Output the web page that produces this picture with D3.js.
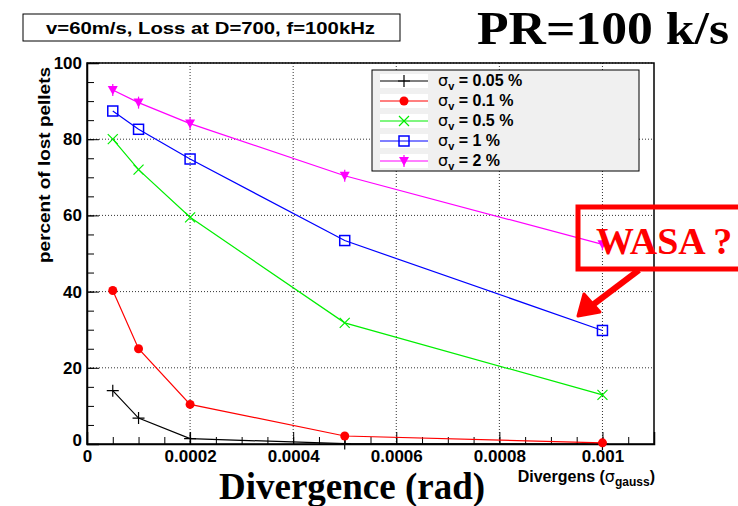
<!DOCTYPE html>
<html>
<head>
<meta charset="utf-8">
<script src="https://cdn.jsdelivr.net/npm/d3@7"></script>
<style>
  body { margin: 0; background: #fff; }
  svg { display: block; }
</style>
</head>
<body>
<svg class="displayContext" width="738" height="506"></svg>
<script>
// divergence values (rad) where the points were taken
var divergence = [0.00005, 0.0001, 0.0002, 0.0005, 0.001];

// percent of lost pellets, one array per velocity spread
var sigma005 = [14, 6.8, 1.4, 0.1, 0];
var sigma01  = [40.3, 25, 10.4, 2.1, 0.3];
var sigma05  = [80, 72, 59.5, 31.8, 12.9];
var sigma1   = [87.4, 82.6, 74.8, 53.4, 29.8];
var sigma2   = [92.9, 89.6, 84.1, 70.4, 52.4];

var seriesLabels = ["0.05 %", "0.1 %", "0.5 %", "1 %", "2 %"];
var xTicks = [0, 0.0002, 0.0004, 0.0006, 0.0008, 0.001];
var yTicks = [0, 20, 40, 60, 80, 100];

function drawChart(){

  var svg = d3.select(".displayContext");

  var left = 87, right = 654, top = 63, bottom = 444;

  var scaleX = d3.scaleLinear().domain([0, 0.0011]).range([left, right]);
  var scaleY = d3.scaleLinear().domain([0, 100]).range([bottom, top]);

  // dotted grid
  var grid = svg.append("g");
  grid.selectAll(".gx").data(xTicks.slice(1)).enter().append("line")
    .attr("x1", d => scaleX(d)).attr("x2", d => scaleX(d))
    .attr("y1", top).attr("y2", bottom)
    .attr("stroke", "#333").attr("stroke-width", 1)
    .attr("stroke-dasharray", "1,2");
  grid.selectAll(".gy").data(yTicks.slice(1)).enter().append("line")
    .attr("x1", left).attr("x2", right)
    .attr("y1", d => scaleY(d)).attr("y2", d => scaleY(d))
    .attr("stroke", "#333").attr("stroke-width", 1)
    .attr("stroke-dasharray", "1,2");

  // frame
  svg.append("rect")
    .attr("x", left).attr("y", top)
    .attr("width", right - left).attr("height", bottom - top)
    .attr("fill", "none").attr("stroke", "#000").attr("stroke-width", 1.5);

  var fmtX = function(d){ return d === 0 ? "0" : String(+d.toFixed(4)); };

  // x axis, ticks pointing up into the frame
  var xMinor = d3.range(0, 0.00111, 0.00005);
  svg.append("g")
    .attr("transform", "translate(0," + bottom + ")")
    .call(d3.axisBottom(scaleX).tickValues(xMinor).tickSize(-7).tickFormat(""))
    .call(g => g.select(".domain").remove());
  var xAxis = svg.append("g")
    .attr("transform", "translate(0," + bottom + ")")
    .call(d3.axisBottom(scaleX).tickValues(xTicks).tickSize(-12).tickPadding(6).tickFormat(fmtX));
  xAxis.select(".domain").attr("stroke-width", 1.5);
  xAxis.selectAll("text")
    .attr("font-family", "Liberation Sans, Arial, sans-serif")
    .attr("font-weight", "bold").attr("font-size", 17).attr("fill", "#000");

  // y axis, ticks pointing right into the frame
  var yMinor = d3.range(0, 101, 5);
  svg.append("g")
    .attr("transform", "translate(" + left + ",0)")
    .call(d3.axisLeft(scaleY).tickValues(yMinor).tickSize(-7).tickFormat(""))
    .call(g => g.select(".domain").remove());
  var yAxis = svg.append("g")
    .attr("transform", "translate(" + left + ",0)")
    .call(d3.axisLeft(scaleY).tickValues(yTicks).tickSize(-12).tickPadding(5));
  yAxis.select(".domain").attr("stroke-width", 1.5);
  yAxis.selectAll("text")
    .attr("font-family", "Liberation Sans, Arial, sans-serif")
    .attr("font-weight", "bold").attr("font-size", 17).attr("fill", "#000");
  yAxis.selectAll(".tick").filter(d => d === 0).select("text").attr("dy", "0.1em");

  // series
  var series = [
    { name: seriesLabels[0], values: sigma005, colour: "#000000", marker: "plus" },
    { name: seriesLabels[1], values: sigma01,  colour: "#ff0000", marker: "dot" },
    { name: seriesLabels[2], values: sigma05,  colour: "#00ee00", marker: "cross" },
    { name: seriesLabels[3], values: sigma1,   colour: "#0000ff", marker: "square" },
    { name: seriesLabels[4], values: sigma2,   colour: "#ff00ff", marker: "tri" }
  ];

  var lineFunction = d3.line()
    .x(function(d, i) { return scaleX(divergence[i]); })
    .y(function(d) { return scaleY(d); });

  series.forEach(function(s){
    svg.append("path")
      .attr("d", lineFunction(s.values))
      .attr("stroke", s.colour)
      .attr("stroke-width", 1.2)
      .attr("fill", "none");
    s.values.forEach(function(v, i){
      drawMarker(svg, s.marker, scaleX(divergence[i]), scaleY(v), s.colour);
    });
  });

  // legend
  var lg = svg.append("g");
  lg.append("rect")
    .attr("x", 372).attr("y", 70).attr("width", 267).attr("height", 101)
    .attr("fill", "#f0f0f0").attr("stroke", "#000").attr("stroke-width", 1);
  series.forEach(function(s, i){
    var yy = 81 + i * 20;
    lg.append("rect").attr("x", 380).attr("y", yy - 7).attr("width", 48).attr("height", 14).attr("fill", "#fff");
    lg.append("line").attr("x1", 380).attr("x2", 428).attr("y1", yy).attr("y2", yy)
      .attr("stroke", s.colour).attr("stroke-width", 1.2);
    drawMarker(lg, s.marker, 404, yy, s.colour);
    var t = lg.append("text")
      .attr("x", 438).attr("y", yy + 5)
      .attr("font-family", "Liberation Sans, Arial, sans-serif")
      .attr("font-weight", "bold").attr("font-size", 16);
    t.append("tspan").attr("font-weight", "normal").attr("font-family", "DejaVu Sans, sans-serif").text("\u03c3");
    t.append("tspan").attr("font-size", 11).attr("dy", 4).text("v");
    t.append("tspan").attr("dy", -4).text(" = " + s.name);
  });

  // title box
  svg.append("rect")
    .attr("x", 23).attr("y", 14).attr("width", 377).attr("height", 27)
    .attr("fill", "#fff").attr("stroke", "#000").attr("stroke-width", 1);
  svg.append("text")
    .attr("x", 46).attr("y", 34)
    .attr("textLength", 329).attr("lengthAdjust", "spacingAndGlyphs")
    .attr("font-family", "Liberation Sans, Arial, sans-serif")
    .attr("font-weight", "bold").attr("font-size", 17)
    .text("v=60m/s, Loss at D=700, f=100kHz");

  svg.append("text")
    .attr("x", 477).attr("y", 44)
    .attr("textLength", 252).attr("lengthAdjust", "spacingAndGlyphs")
    .attr("font-family", "Liberation Serif, Times New Roman, serif")
    .attr("font-weight", "bold").attr("font-size", 47)
    .text("PR=100 k/s");

  // y title
  svg.append("text")
    .attr("transform", "translate(50,165) rotate(-90)")
    .attr("x", -98)
    .attr("textLength", 196).attr("lengthAdjust", "spacingAndGlyphs")
    .attr("font-family", "Liberation Sans, Arial, sans-serif")
    .attr("font-weight", "bold").attr("font-size", 16)
    .text("percent of lost pellets");

  // small x title
  var xt = svg.append("text")
    .attr("x", 655).attr("y", 482).attr("text-anchor", "end")
    .attr("font-family", "Liberation Sans, Arial, sans-serif")
    .attr("font-weight", "bold").attr("font-size", 16);
  xt.append("tspan").text("Divergens  (");
  xt.append("tspan").attr("font-weight", "normal").attr("font-family", "DejaVu Sans, sans-serif").text("\u03c3");
  xt.append("tspan").attr("font-size", 12).attr("dy", 4).text("gauss");
  xt.append("tspan").attr("dy", -4).text(")");

  // big x title
  svg.append("text")
    .attr("x", 352).attr("y", 499).attr("text-anchor", "middle")
    .attr("font-family", "Liberation Serif, Times New Roman, serif")
    .attr("font-weight", "bold").attr("font-size", 37)
    .text("Divergence (rad)");

  // WASA annotation
  svg.append("rect")
    .attr("x", 578).attr("y", 207).attr("width", 180).attr("height", 62)
    .attr("fill", "none").attr("stroke", "#ff0000").attr("stroke-width", 5);
  svg.append("text")
    .attr("x", 596).attr("y", 254)
    .attr("font-family", "Liberation Serif, Times New Roman, serif")
    .attr("font-weight", "bold").attr("font-size", 38).attr("fill", "#ff0000")
    .text("WASA ?");
  svg.append("line")
    .attr("x1", 639).attr("y1", 270).attr("x2", 590).attr("y2", 307)
    .attr("stroke", "#ff0000").attr("stroke-width", 6);
  svg.append("path")
    .attr("d", "M578,316 L584,294 L600,312 Z")
    .attr("fill", "#ff0000").attr("stroke", "#ff0000").attr("stroke-width", 3)
    .attr("stroke-linejoin", "round");
}

function drawMarker(g, kind, x, y, colour){
  if (kind === "plus") {
    g.append("path").attr("d", "M" + (x - 6) + "," + y + "H" + (x + 6) + "M" + x + "," + (y - 6) + "V" + (y + 6))
      .attr("stroke", colour).attr("stroke-width", 1.2).attr("fill", "none");
  } else if (kind === "dot") {
    g.append("circle").attr("cx", x).attr("cy", y).attr("r", 4.5).attr("fill", colour);
  } else if (kind === "cross") {
    g.append("path").attr("d", "M" + (x - 5) + "," + (y - 5) + "L" + (x + 5) + "," + (y + 5) + "M" + (x - 5) + "," + (y + 5) + "L" + (x + 5) + "," + (y - 5))
      .attr("stroke", colour).attr("stroke-width", 1.2).attr("fill", "none");
  } else if (kind === "square") {
    g.append("rect").attr("x", x - 5).attr("y", y - 5).attr("width", 10).attr("height", 10)
      .attr("stroke", colour).attr("stroke-width", 1.5).attr("fill", "none");
  } else if (kind === "tri") {
    g.append("path").attr("d", "M" + (x - 5) + "," + (y - 4) + "L" + (x + 5) + "," + (y - 4) + "L" + x + "," + (y + 5) + "Z")
      .attr("fill", colour);
    g.append("path").attr("d", "M" + x + "," + (y - 6) + "V" + (y + 6))
      .attr("stroke", colour).attr("stroke-width", 1.2);
  }
}

drawChart();
</script>
</body>
</html>
